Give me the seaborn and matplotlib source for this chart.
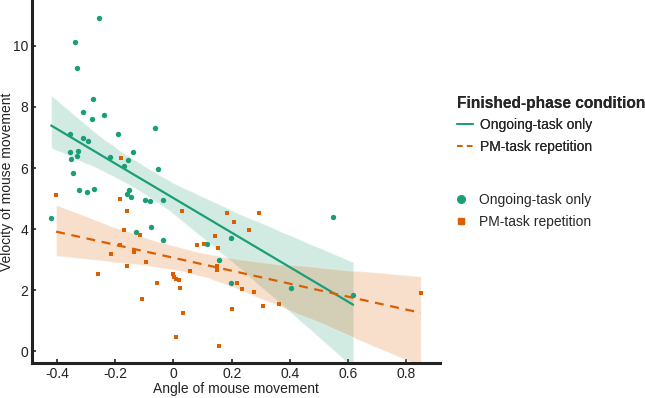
import matplotlib
matplotlib.use("Agg")
import matplotlib.pyplot as plt
from matplotlib.lines import Line2D
import numpy as np
import pandas as pd
import seaborn as sns

sns.set_style("ticks")
plt.rcParams['font.family'] = ['Liberation Sans', 'DejaVu Sans']
fontsize = 10

# angle / velocity, one pair per participant
ongoing_x = [-0.255, -0.339, -0.331, -0.276, -0.312, -0.240, -0.279, -0.063, -0.189, -0.354,
             -0.310, -0.292, -0.354, -0.328, -0.330, -0.351, -0.138, -0.217, -0.156, -0.169,
             -0.052, -0.345, -0.323, -0.297, -0.272, -0.154, -0.161, -0.146, -0.099, -0.080,
             -0.035, -0.420, -0.127, -0.076, -0.036, 0.116, 0.158, 0.196, 0.196, 0.403,
             0.549, 0.617]
ongoing_y = [10.92, 10.13, 9.28, 8.27, 7.82, 7.72, 7.62, 7.31, 7.12, 7.13,
             6.99, 6.90, 6.51, 6.55, 6.40, 6.28, 6.51, 6.35, 6.25, 6.07,
             5.96, 5.84, 5.29, 5.23, 5.31, 5.27, 5.14, 5.06, 4.94, 4.91,
             4.95, 4.35, 3.91, 4.08, 3.66, 3.50, 2.99, 3.70, 2.24, 2.06,
             4.40, 1.85]

pm_x = [-0.403, -0.181, -0.185, -0.159, 0.029, 0.184, 0.293, 0.207, 0.259, -0.171,
        -0.114, 0.144, 0.080, 0.104, 0.152, -0.182, -0.215, -0.137, -0.095, -0.160,
        -0.259, -0.057, -0.003, 0.003, 0.010, 0.018, 0.022, 0.058, -0.108, 0.033,
        0.008, 0.157, 0.150, 0.150, 0.219, 0.237, 0.276, 0.309, 0.361, 0.200,
        0.849]
pm_y = [5.12, 6.32, 4.99, 4.60, 4.58, 4.53, 4.52, 4.24, 3.96, 3.96,
        3.80, 3.79, 3.47, 3.51, 3.39, 3.47, 3.19, 3.26, 2.91, 2.80,
        2.54, 2.23, 2.53, 2.43, 2.36, 2.34, 2.07, 2.62, 1.73, 1.26,
        0.47, 0.17, 2.78, 2.67, 2.24, 2.05, 1.94, 1.48, 1.56, 1.39,
        1.90]

conditions = ["Ongoing-task only", "PM-task repetition"]
green = "#1b9e77"
orange = "#d95f02"

df = pd.DataFrame({
    "angle": ongoing_x + pm_x,
    "velocity": ongoing_y + pm_y,
    "condition": [conditions[0]] * len(ongoing_x) + [conditions[1]] * len(pm_x),
})

fig = plt.figure(figsize=(6.45, 3.98), dpi=100)
ax = fig.add_axes([0.050, 0.088, 0.632, 0.912])

styles = {conditions[0]: (green, "-", "o", 15),
          conditions[1]: (orange, (0, (4, 3)), "s", 8)}
for cond in conditions:
    sub = df[df["condition"] == cond]
    col, ls, mk, size = styles[cond]
    sns.regplot(data=sub, x="angle", y="velocity", ax=ax, scatter=False, ci=95, seed=3,
                color=col, line_kws={"lw": 1.6, "ls": ls})
for coll in ax.collections:
    coll.set_alpha(0.2)
for cond in conditions:
    sub = df[df["condition"] == cond]
    col, ls, mk, size = styles[cond]
    sns.scatterplot(data=sub, x="angle", y="velocity", color=col, marker=mk, s=size,
                    linewidth=0, ax=ax, legend=False, zorder=3)

ax.set_xlim(-0.485, 0.915)
ax.set_ylim(-0.38, 11.5)
ax.set_xticks(np.arange(-0.4, 0.81, 0.2))
ax.set_xticklabels(["-0.4", "-0.2", "0", "0.2", "0.4", "0.6", "0.8"])
ax.set_yticks(range(0, 11, 2))
ax.tick_params(direction="in", length=3, width=1.2, labelsize=fontsize, colors="#222222", pad=3)
for side in ["left", "bottom"]:
    ax.spines[side].set_linewidth(2.2)
    ax.spines[side].set_color("#222222")
sns.despine(ax=ax)
ax.set_xlabel("Angle of mouse movement", fontsize=fontsize, color="#222222")
ax.set_ylabel("Velocity of mouse movement", fontsize=fontsize, color="#222222")
ax.xaxis.set_label_coords(0.5, -0.052)
ax.yaxis.set_label_coords(-0.044, 0.5)

line_handles = [Line2D([], [], color=green, lw=1.3),
                Line2D([], [], color=orange, lw=1.3, ls=(0, (3, 2.5)))]
leg1 = fig.legend(line_handles, conditions, title="Finished-phase condition",
                  loc="upper left", bbox_to_anchor=(0.709, 0.760), frameon=False,
                  fontsize=fontsize, title_fontproperties={"weight": "bold", "size": 11.2},
                  handlelength=1.1, handletextpad=0.55, labelspacing=0.55, alignment="left",
                  borderaxespad=0, borderpad=0)
point_handles = [Line2D([], [], color=green, marker="o", ls="", ms=5.5),
                 Line2D([], [], color=orange, marker="s", ls="", ms=4.5)]
fig.legend(point_handles, conditions, loc="upper left", bbox_to_anchor=(0.704, 0.515),
           frameon=False, fontsize=fontsize, handlelength=1.0, handletextpad=0.8,
           labelspacing=0.55, borderaxespad=0, borderpad=0)
fig.add_artist(leg1)

fig.savefig("out.png", dpi=100)
